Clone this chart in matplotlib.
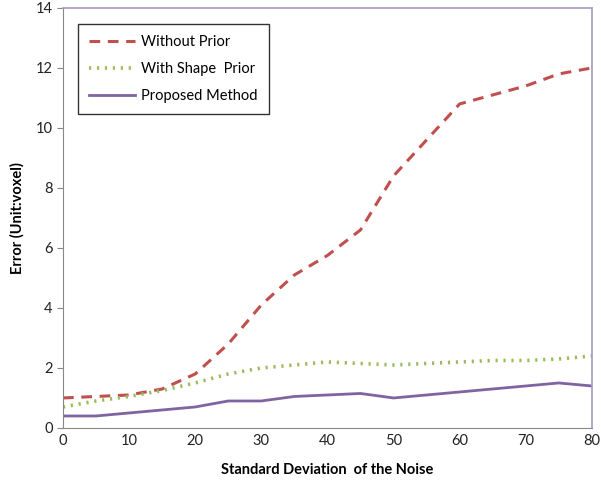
import numpy as np
import matplotlib.pyplot as plt

noise_sd = [0, 5, 10, 15, 20, 25, 30, 35, 40, 45, 50, 55, 60, 65, 70, 75, 80]
without_prior = [1.0, 1.05, 1.1, 1.3, 1.8, 2.8, 4.1, 5.1, 5.75, 6.6, 8.4, 9.6, 10.8, 11.1, 11.4, 11.8, 12.0]
with_shape_prior = [0.7, 0.9, 1.05, 1.25, 1.5, 1.8, 2.0, 2.1, 2.2, 2.15, 2.1, 2.15, 2.2, 2.25, 2.25, 2.3, 2.4]
proposed = [0.4, 0.4, 0.5, 0.6, 0.7, 0.9, 0.9, 1.05, 1.1, 1.15, 1.0, 1.1, 1.2, 1.3, 1.4, 1.5, 1.4]

plt.rcParams['font.family'] = ['Lato', 'DejaVu Sans']

fig = plt.figure(figsize=(6.01, 4.95), dpi=100)
ax = fig.add_axes([0.1048, 0.1354, 0.88, 0.8486])

ax.plot(noise_sd, without_prior, color="#C0504D", linewidth=2.2, linestyle=(0, (3.5, 2.5)),
        solid_joinstyle="round", dash_joinstyle="round", label="Without Prior")
ax.plot(noise_sd, with_shape_prior, color="#9BBB59", linewidth=2.6, linestyle=(0, (0.6, 1.6)),
        dash_joinstyle="round", label="With Shape  Prior")
ax.plot(noise_sd, proposed, color="#8064A2", linewidth=2.0, solid_joinstyle="round",
        label="Proposed Method")

ax.set_xlim(0, 80)
ax.set_ylim(0, 14)
ax.set_xticks(range(0, 81, 10))
ax.set_yticks(range(0, 15, 2))
ax.tick_params(axis="x", length=0, pad=4, labelsize=10.5, colors="#222222")
ax.tick_params(axis="y", length=4, direction="out", color="#888888", labelsize=10.5, labelcolor="#222222")

for side in ("left", "bottom"):
    ax.spines[side].set_color("#888888")
for side in ("top", "right"):
    ax.spines[side].set_color("#A898C8")
    ax.spines[side].set_linewidth(1.2)

ax.set_xlabel("Standard Deviation  of the Noise", fontsize=10.5, fontweight="bold", labelpad=11)
ax.set_ylabel("Error (Unit:voxel)", fontsize=10.5, fontweight="bold", labelpad=8)

leg = ax.legend(loc="upper left", bbox_to_anchor=(0.028, 0.962), borderaxespad=0, fontsize=10.5,
                frameon=True, fancybox=False, handlelength=3.2, labelspacing=0.9, borderpad=0.75,
                handletextpad=0.4)
leg.get_frame().set_edgecolor("black")
leg.get_frame().set_linewidth(1.0)

plt.savefig("out.png", dpi=100)
